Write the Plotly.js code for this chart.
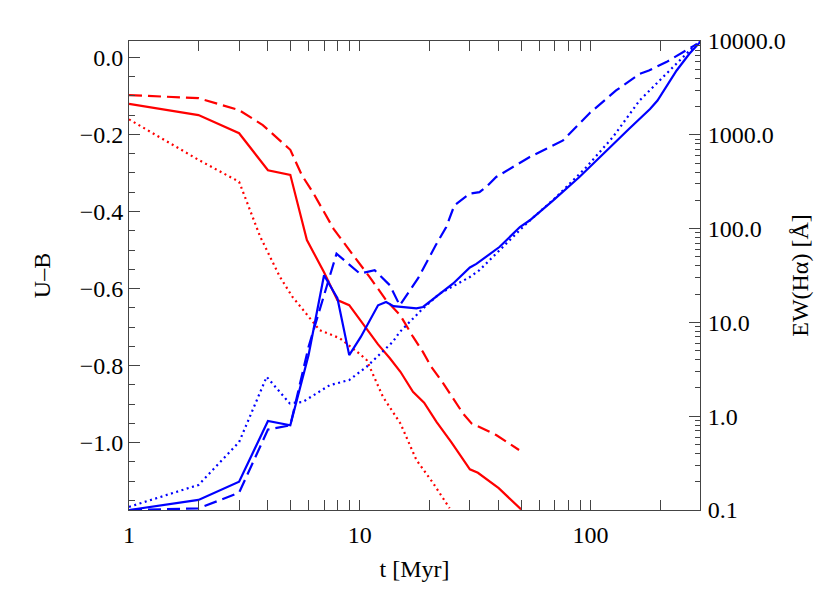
<!DOCTYPE html>
<html>
<head>
<meta charset="utf-8">
<script src="https://cdn.plot.ly/plotly-3.0.1.min.js"></script>
<style>html,body{margin:0;padding:0;background:#fff;}#chart{width:830px;height:593px;}</style>
</head>
<body>
<div id="chart"></div>
<script>
// U-B colour (left axis), red
const tRedSolid = [1,2,3,4,5,5.9,7,8,9,10.7,12,13.5,15,17,19,21.5,25,30,32.5,40,50];
const ubRedSolid = [-0.121,-0.150,-0.197,-0.293,-0.305,-0.474,-0.558,-0.630,-0.643,-0.703,-0.745,-0.781,-0.816,-0.868,-0.896,-0.946,-1.000,-1.069,-1.078,-1.118,-1.173];
const tRedDash = [1,2,3,3.8,5,5.6,6.3,7.7,9.4,11,13,15,17,18.8,20.4,23,28,30.5,33,39,49];
const ubRedDash = [-0.098,-0.106,-0.137,-0.176,-0.240,-0.305,-0.353,-0.445,-0.515,-0.569,-0.630,-0.670,-0.725,-0.765,-0.803,-0.846,-0.924,-0.950,-0.959,-0.980,-1.019];
const tRedDot = [1,2,3,3.25,3.7,4.5,5.1,6.7,8.2,10,10.7,12.6,15,17.6,20.8,24.5];
const ubRedDot = [-0.161,-0.266,-0.323,-0.379,-0.465,-0.569,-0.621,-0.708,-0.729,-0.770,-0.785,-0.881,-0.950,-1.045,-1.105,-1.170];
// EW(Halpha) (right axis), blue
const tBlueSolid = [1,2,3,4,5,6,7,8,9,10.1,12,13,14,17.6,18.8,22.2,25.4,30,32,40.4,49.4,54.4,68.9,89.5,117,147,181,195,236,268,298];
const ewBlueSolid = [0.1,0.128,0.2,0.89,0.80,4.5,31.8,18.1,4.48,7.0,15.2,16.5,14.9,14.1,14.6,20.3,26,38.5,42,64,104,122,200,355,682,1160,1880,2320,4850,7300,9700];
const tBlueDash = [1,2,3,4,5,6,7.93,10,11.6,13.5,14.9,17.9,21.3,23.7,25.7,30,33,35.5,39,46,54.5,64.4,76,99,129,163,179,213,250,290];
const ewBlueDash = [0.1,0.104,0.153,0.72,0.80,5.5,54,33.2,36,24.9,15.2,29.6,66,104,177,236,245,282,355,453,580,711,872,1700,2970,4460,4850,5960,7600,9330];
const tBlueDot = [1,2,3,3.95,4.97,5.67,7.4,9.0,10.7,13.9,14.9,18.8,22.2,30,33,52.7,71,96,125,163,206,243,278,298];
const ewBlueDot = [0.108,0.185,0.53,2.63,1.37,1.42,2.14,2.43,3.36,6.2,7.9,14.1,20.3,30.5,36,113,217,453,946,2320,4120,6200,8600,9900];

const xTickVals = [1,10,100];
const xTickText = ['1','10','100'];
const y2TickVals = [0.1,1,10,100,1000,10000];
const y2TickText = ['0.1','1.0','10.0','100.0','1000.0','10000.0'];

function logMinor(lo, hi) {
  const v = [];
  for (let d = lo; d < hi; d++) for (let k = 2; k <= 9; k++) v.push(k * Math.pow(10, d));
  return v;
}
const RED = '#ff0000', BLUE = '#0000ff';
const LW = 2.2;
const DASH = '13px,6px', DOT = '2px,3.5px';
function makeTraces() {
  return [
    {x: tRedSolid, y: ubRedSolid, mode: 'lines', line: {color: RED, width: LW}},
    {x: tRedDash, y: ubRedDash, mode: 'lines', line: {color: RED, width: LW, dash: DASH}},
    {x: tRedDot, y: ubRedDot, mode: 'lines', line: {color: RED, width: LW, dash: DOT}},
    {x: tBlueSolid, y: ewBlueSolid, mode: 'lines', line: {color: BLUE, width: LW}, yaxis: 'y2'},
    {x: tBlueDash, y: ewBlueDash, mode: 'lines', line: {color: BLUE, width: LW, dash: DASH}, yaxis: 'y2'},
    {x: tBlueDot, y: ewBlueDot, mode: 'lines', line: {color: BLUE, width: LW, dash: DOT}, yaxis: 'y2'}
  ];
}
const AX = '#444';

// withTitleFont: titles forced to 24px; otherwise Plotly's default (larger) title size with adjusted standoffs
function makeLayout(withTitleFont) {
  function ttl(text, standoffSmall, standoffBig) {
    return withTitleFont ? {text: text, font: {size: 24}, standoff: standoffSmall} : {text: text, standoff: standoffBig};
  }
  return {
    width: 830, height: 593,
    margin: {l: 129, r: 130, t: 41, b: 83},
    font: {family: '"Liberation Serif", serif', size: 24, color: '#000'},
    showlegend: false,
    xaxis: {
      type: 'log', range: [0, Math.log10(298)],
      tickmode: 'array', tickvals: xTickVals, ticktext: xTickText,
      ticks: 'inside', ticklen: 10, tickcolor: AX, tickwidth: 1,
      minor: {tickmode: 'array', tickvals: logMinor(0, 3), ticks: 'inside', ticklen: 5, tickcolor: AX, tickwidth: 1, showgrid: false},
      showline: true, linecolor: AX, linewidth: 1, mirror: 'allticks',
      showgrid: false, zeroline: false,
      ticklabelstandoff: 3,
      title: ttl('t [Myr]', 13, 10)
    },
    yaxis: {
      range: [-1.1746, 0.0423],
      tickmode: 'linear', tick0: 0, dtick: 0.2, tickformat: '.1f',
      ticks: 'inside', ticklen: 11, tickcolor: AX, tickwidth: 1,
      minor: {dtick: 0.05, ticks: 'inside', ticklen: 6},
      showline: true, linecolor: AX, linewidth: 1,
      showgrid: false, zeroline: false,
      ticklabelstandoff: 0,
      title: ttl('U–B', 22, 20)
    },
    yaxis2: {
      type: 'log', range: [-1, 4], overlaying: 'y', side: 'right',
      tickmode: 'array', tickvals: y2TickVals, ticktext: y2TickText,
      ticks: 'inside', ticklen: 11, tickcolor: AX, tickwidth: 1,
      minor: {tickmode: 'array', tickvals: logMinor(-1, 4), ticks: 'inside', ticklen: 5, tickcolor: AX, tickwidth: 1, showgrid: false},
      showline: true, linecolor: AX, linewidth: 1,
      showgrid: false, zeroline: false,
      ticklabelstandoff: 2,
      title: ttl('EW(Hα) [Å]', 6, 1)
    }
  };
}

function drawnOK() {
  const n = s => document.querySelectorAll(s).length;
  const lbl = document.querySelector('.ytick text');
  const st = lbl ? (lbl.getAttribute('style') || '') : '';
  return n('path.xtick') > 0 && n('path.ytick') > 0 && n('path.y2tick') > 0 && /Liberation/.test(st);
}
function fallback() {
  return Plotly.newPlot('chart', makeTraces(), makeLayout(false), {staticPlot: true});
}
Plotly.newPlot('chart', makeTraces(), makeLayout(true), {staticPlot: true})
  .then(function(){ if (!drawnOK()) return fallback(); })
  .catch(function(){ return fallback(); });
</script>
</body>
</html>
